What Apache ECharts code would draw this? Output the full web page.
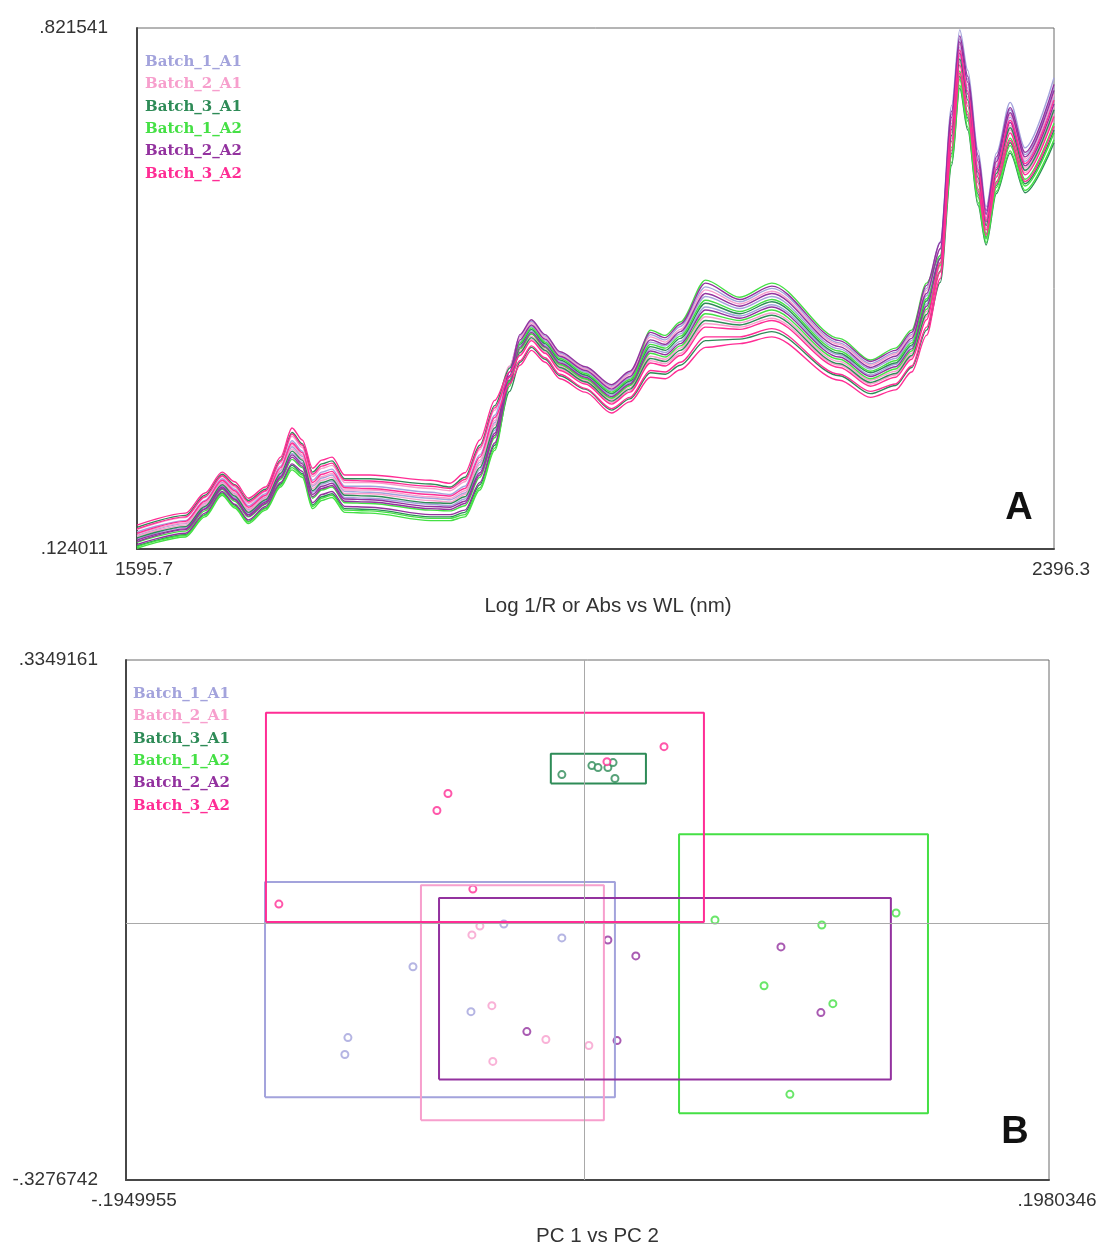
<!DOCTYPE html>
<html>
<head>
<meta charset="utf-8">
<title>NIR spectra and PCA scores by batch</title>
<script src="https://cdn.jsdelivr.net/npm/echarts@6/dist/echarts.min.js"></script>
<style>
  html, body { margin: 0; padding: 0; background: #fff; }
  #chart { width: 1102px; height: 1248px; }
</style>
</head>
<body>
<div id="chart"></div>
<script>
// ---- Data -----------------------------------------------------------------
const batchNames = ['Batch_1_A1', 'Batch_2_A1', 'Batch_3_A1', 'Batch_1_A2', 'Batch_2_A2', 'Batch_3_A2'];

// Wavelength grid (nm) shared by all spectra
const wavelengths = [1595.7, 1638, 1655, 1670, 1681, 1693, 1708, 1721, 1731, 1740, 1749, 1757, 1766, 1777, 1799, 1852, 1869, 1882, 1895, 1908, 1921, 1930,
  1940, 1952, 1965, 1987, 2010, 2026, 2044, 2057, 2070, 2092, 2122, 2150, 2209, 2236, 2258, 2272,
  2285, 2297, 2307, 2314, 2321, 2330, 2337, 2346, 2358, 2371, 2396.3];

// Log 1/R spectra, three samples per batch
const spectraBatch1A1 = [
  [0.147,0.162,0.189,0.218,0.204,0.182,0.198,0.235,0.269,0.255,0.216,0.227,0.231,0.208,0.208,0.200,0.197,0.208,0.250,0.303,0.368,0.409,
   0.429,0.409,0.386,0.366,0.342,0.360,0.411,0.404,0.422,0.475,0.455,0.473,0.400,0.372,0.387,0.411,
   0.473,0.535,0.718,0.819,0.765,0.658,0.582,0.654,0.722,0.661,0.755],
  [0.142,0.158,0.185,0.213,0.198,0.177,0.193,0.229,0.261,0.248,0.208,0.219,0.223,0.201,0.200,0.192,0.190,0.199,0.240,0.293,0.361,0.402,
   0.422,0.403,0.381,0.361,0.336,0.353,0.401,0.396,0.412,0.462,0.446,0.462,0.392,0.365,0.379,0.403,
   0.463,0.526,0.706,0.807,0.753,0.647,0.574,0.646,0.712,0.652,0.742],
  [0.137,0.153,0.180,0.208,0.193,0.172,0.188,0.223,0.252,0.240,0.200,0.211,0.215,0.193,0.192,0.184,0.182,0.191,0.230,0.283,0.354,0.396,
   0.416,0.397,0.375,0.356,0.330,0.347,0.392,0.387,0.402,0.448,0.436,0.451,0.384,0.357,0.371,0.395,
   0.452,0.517,0.694,0.796,0.741,0.636,0.567,0.638,0.702,0.643,0.729]
];
const spectraBatch2A1 = [
  [0.150,0.166,0.193,0.221,0.207,0.185,0.201,0.239,0.275,0.260,0.221,0.232,0.236,0.213,0.213,0.205,0.202,0.214,0.257,0.310,0.369,0.407,
   0.427,0.407,0.384,0.365,0.340,0.358,0.408,0.401,0.418,0.471,0.452,0.469,0.398,0.370,0.385,0.409,
   0.470,0.526,0.698,0.800,0.745,0.640,0.569,0.641,0.705,0.646,0.733],
  [0.144,0.159,0.186,0.215,0.200,0.178,0.195,0.231,0.264,0.250,0.210,0.221,0.225,0.203,0.203,0.194,0.192,0.202,0.243,0.296,0.355,0.389,
   0.409,0.392,0.369,0.350,0.324,0.340,0.382,0.378,0.393,0.435,0.427,0.440,0.375,0.350,0.362,0.386,
   0.442,0.508,0.682,0.784,0.729,0.625,0.559,0.630,0.691,0.634,0.716],
  [0.141,0.156,0.183,0.212,0.197,0.175,0.192,0.227,0.258,0.245,0.205,0.216,0.220,0.198,0.198,0.189,0.187,0.197,0.237,0.290,0.350,0.385,
   0.405,0.388,0.365,0.347,0.320,0.336,0.376,0.372,0.386,0.426,0.421,0.433,0.370,0.345,0.357,0.381,
   0.435,0.502,0.674,0.776,0.721,0.617,0.554,0.624,0.685,0.628,0.707]
];
const spectraBatch3A1 = [
  [0.153,0.169,0.196,0.224,0.210,0.189,0.204,0.243,0.280,0.265,0.227,0.238,0.242,0.218,0.218,0.211,0.207,0.220,0.263,0.316,0.366,0.398,
   0.418,0.399,0.377,0.357,0.332,0.349,0.395,0.390,0.406,0.453,0.439,0.455,0.386,0.360,0.373,0.397,
   0.456,0.513,0.678,0.780,0.725,0.621,0.557,0.627,0.688,0.631,0.712],
  [0.139,0.154,0.181,0.210,0.195,0.173,0.190,0.225,0.255,0.243,0.202,0.213,0.217,0.196,0.195,0.186,0.185,0.194,0.233,0.286,0.350,0.387,
   0.407,0.390,0.367,0.348,0.322,0.338,0.379,0.375,0.390,0.430,0.424,0.437,0.372,0.347,0.359,0.383,
   0.438,0.496,0.654,0.757,0.701,0.599,0.541,0.611,0.668,0.613,0.685],
  [0.128,0.143,0.170,0.199,0.183,0.161,0.179,0.211,0.236,0.225,0.183,0.194,0.198,0.178,0.177,0.167,0.167,0.173,0.210,0.263,0.335,0.374,
   0.394,0.378,0.356,0.338,0.310,0.325,0.360,0.358,0.370,0.403,0.405,0.415,0.356,0.332,0.343,0.367,
   0.417,0.481,0.638,0.741,0.685,0.584,0.531,0.600,0.654,0.601,0.668]
];
const spectraBatch1A2 = [
  [0.133,0.148,0.175,0.204,0.188,0.167,0.184,0.217,0.244,0.233,0.192,0.203,0.207,0.186,0.185,0.176,0.175,0.182,0.220,0.273,0.348,0.392,
   0.412,0.394,0.371,0.352,0.326,0.343,0.417,0.410,0.428,0.484,0.461,0.480,0.406,0.377,0.393,0.417,
   0.480,0.517,0.662,0.764,0.709,0.606,0.546,0.616,0.674,0.619,0.694],
  [0.127,0.142,0.169,0.198,0.181,0.160,0.178,0.209,0.233,0.223,0.181,0.192,0.196,0.176,0.175,0.165,0.165,0.170,0.206,0.259,0.348,0.400,
   0.420,0.401,0.379,0.359,0.334,0.351,0.398,0.393,0.409,0.457,0.442,0.458,0.389,0.362,0.376,0.400,
   0.459,0.504,0.650,0.753,0.697,0.595,0.539,0.608,0.664,0.610,0.681],
  [0.125,0.140,0.167,0.196,0.179,0.158,0.176,0.207,0.230,0.220,0.178,0.189,0.193,0.173,0.172,0.162,0.162,0.167,0.203,0.256,0.342,0.392,
   0.412,0.394,0.371,0.352,0.326,0.343,0.386,0.381,0.396,0.439,0.430,0.444,0.378,0.352,0.365,0.389,
   0.445,0.495,0.642,0.745,0.689,0.588,0.534,0.603,0.657,0.604,0.672]
];
const spectraBatch2A2 = [
  [0.136,0.151,0.178,0.207,0.191,0.170,0.187,0.221,0.250,0.238,0.197,0.208,0.212,0.191,0.190,0.181,0.180,0.188,0.226,0.279,0.361,0.411,
   0.431,0.411,0.388,0.368,0.344,0.362,0.414,0.407,0.425,0.480,0.458,0.476,0.403,0.375,0.390,0.414,
   0.477,0.534,0.710,0.811,0.757,0.651,0.577,0.649,0.715,0.655,0.746],
  [0.134,0.150,0.177,0.205,0.190,0.168,0.185,0.219,0.247,0.235,0.194,0.205,0.209,0.188,0.187,0.178,0.177,0.185,0.223,0.276,0.356,0.404,
   0.424,0.405,0.382,0.363,0.338,0.355,0.404,0.398,0.415,0.466,0.449,0.466,0.395,0.367,0.382,0.406,
   0.466,0.526,0.702,0.803,0.749,0.643,0.572,0.643,0.708,0.649,0.738],
  [0.130,0.145,0.172,0.201,0.184,0.163,0.181,0.213,0.238,0.228,0.186,0.197,0.201,0.181,0.180,0.170,0.170,0.176,0.213,0.266,0.346,0.394,
   0.414,0.395,0.373,0.354,0.328,0.345,0.389,0.384,0.399,0.444,0.433,0.448,0.381,0.355,0.368,0.392,
   0.449,0.513,0.686,0.788,0.733,0.628,0.562,0.632,0.695,0.637,0.720]
];
const spectraBatch3A2 = [
  [0.156,0.172,0.199,0.227,0.214,0.192,0.207,0.247,0.286,0.270,0.232,0.243,0.247,0.223,0.223,0.216,0.212,0.226,0.270,0.323,0.361,0.383,
   0.403,0.386,0.363,0.345,0.318,0.334,0.373,0.369,0.383,0.421,0.418,0.430,0.367,0.342,0.354,0.378,
   0.431,0.507,0.690,0.792,0.737,0.632,0.564,0.635,0.698,0.640,0.725],
  [0.151,0.167,0.194,0.222,0.209,0.187,0.202,0.241,0.278,0.263,0.224,0.235,0.239,0.216,0.215,0.208,0.205,0.217,0.260,0.313,0.354,0.376,
   0.396,0.380,0.358,0.339,0.312,0.327,0.363,0.361,0.374,0.408,0.408,0.419,0.358,0.335,0.345,0.369,
   0.421,0.495,0.670,0.772,0.717,0.614,0.551,0.622,0.681,0.625,0.703],
  [0.145,0.161,0.188,0.216,0.202,0.180,0.196,0.233,0.266,0.253,0.213,0.224,0.228,0.206,0.205,0.197,0.195,0.205,0.247,0.300,0.345,0.370,
   0.390,0.374,0.352,0.334,0.306,0.321,0.354,0.352,0.364,0.394,0.399,0.408,0.350,0.327,0.337,0.361,
   0.410,0.486,0.658,0.761,0.705,0.603,0.544,0.614,0.671,0.616,0.690]
];

// PCA scores (PC 1, PC 2), six samples per batch
const pc1Batch1A1 = [-0.0341, -0.0094, -0.0728, -0.1005, -0.1018, -0.0481];
const pc2Batch1A1 = [-0.0015, -0.0192, -0.0560, -0.1462, -0.1677, -0.1132];
const pc1Batch2A1 = [-0.0443, -0.0477, -0.0392, -0.0162, 0.0021, -0.0388];
const pc2Batch2A1 = [-0.0040, -0.0154, -0.1055, -0.1487, -0.1563, -0.1766];
const pc1Batch3A1 = [-0.0094, 0.0034, 0.0060, 0.0102, 0.0124, 0.0132];
const pc2Batch3A1 = [0.1889, 0.2004, 0.1978, 0.1978, 0.2042, 0.1839];
const pc1Batch1A2 = [0.0558, 0.1013, 0.1329, 0.0767, 0.1060, 0.0877];
const pc2Batch1A2 = [0.0036, -0.0027, 0.0125, -0.0802, -0.1030, -0.2185];
const pc1Batch2A2 = [0.0102, 0.0221, 0.0839, 0.1009, 0.0141, -0.0243];
const pc2Batch2A2 = [-0.0218, -0.0421, -0.0307, -0.1144, -0.1500, -0.1386];
const pc1Batch3A2 = [0.0341, 0.0098, -0.0579, -0.0626, -0.0473, -0.1299];
const pc2Batch3A2 = [0.2245, 0.2054, 0.1648, 0.1432, 0.0430, 0.0239];

// Class limit boxes: [PC1 min, PC1 max, PC2 min, PC2 max]
const boxBatch1A1 = [-0.1358, 0.0132, -0.2223, 0.0519];
const boxBatch2A1 = [-0.0694, 0.0085, -0.2515, 0.0480];
const boxBatch3A1 = [-0.0141, 0.0264, 0.1775, 0.2156];
const boxBatch1A2 = [0.0405, 0.1465, -0.2426, 0.1128];
const boxBatch2A2 = [-0.0617, 0.1307, -0.1995, 0.0315];
const boxBatch3A2 = [-0.1354, 0.0511, 0.0011, 0.2676];

// Axis end ticks
const spectraXTicks = [1595.7, 2396.3];
const spectraYTicks = [0.124011, 0.821541];
const scoreXTicks = [-0.1949955, 0.1980346];
const scoreYTicks = [-0.3276742, 0.3349161];

// ---- Styles ---------------------------------------------------------------
const batchColors = ['#a3a3dc', '#f79fcd', '#2e8b57', '#45e045', '#93329f', '#ff2d95'];
const sansFont = '"Liberation Sans", Arial, sans-serif';
const serifFont = '"DejaVu Serif", "Liberation Serif", serif';

// ---- Assembly -------------------------------------------------------------
const spectraByBatch = [spectraBatch1A1, spectraBatch2A1, spectraBatch3A1, spectraBatch1A2, spectraBatch2A2, spectraBatch3A2];
const pc1ByBatch = [pc1Batch1A1, pc1Batch2A1, pc1Batch3A1, pc1Batch1A2, pc1Batch2A2, pc1Batch3A2];
const pc2ByBatch = [pc2Batch1A1, pc2Batch2A1, pc2Batch3A1, pc2Batch1A2, pc2Batch2A2, pc2Batch3A2];
const boxByBatch = [boxBatch1A1, boxBatch2A1, boxBatch3A1, boxBatch1A2, boxBatch2A2, boxBatch3A2];

function tickText(v) {
  return String(v).replace(/^(-?)0\./, '$1.');
}

const series = [];

// Spectra (top panel)
spectraByBatch.forEach((spectra, b) => {
  spectra.forEach((values) => {
    series.push({
      type: 'line', name: batchNames[b], xAxisIndex: 0, yAxisIndex: 0,
      data: wavelengths.map((w, i) => [w, values[i]]),
      showSymbol: false, smooth: 0.3, smoothMonotone: 'x', silent: true,
      lineStyle: { color: batchColors[b], width: 1.4 },
      itemStyle: { color: batchColors[b] }
    });
  });
});

// Class boxes (bottom panel)
boxByBatch.forEach((box, b) => {
  const [x0, x1, y0, y1] = box;
  const s = {
    type: 'line', name: batchNames[b], xAxisIndex: 1, yAxisIndex: 1,
    data: [[x0, y0], [x1, y0], [x1, y1], [x0, y1], [x0, y0]],
    showSymbol: false, silent: true,
    lineStyle: { color: batchColors[b], width: 2 },
    itemStyle: { color: batchColors[b] }
  };
  if (b === 0) {
    s.markLine = {
      silent: true, symbol: 'none', animation: false,
      label: { show: false },
      lineStyle: { color: '#a9a9a9', width: 1, type: 'solid' },
      data: [{ xAxis: 0 }, { yAxis: 0 }]
    };
  }
  series.push(s);
});

// Scores (bottom panel)
pc1ByBatch.forEach((xs, b) => {
  series.push({
    type: 'scatter', name: batchNames[b], xAxisIndex: 1, yAxisIndex: 1,
    data: xs.map((x, i) => [x, pc2ByBatch[b][i]]),
    symbol: 'emptyCircle', symbolSize: 7, silent: true,
    itemStyle: { color: batchColors[b], borderColor: batchColors[b], borderWidth: 1.7 }
  });
});

function legendAt(left, top) {
  return {
    orient: 'vertical', left: left, top: top,
    icon: 'rect', itemWidth: 0, itemHeight: 16, itemGap: 6.4,
    itemStyle: { opacity: 0 }, lineStyle: { opacity: 0 },
    selectedMode: false,
    textStyle: { fontFamily: serifFont, fontWeight: 'bold', fontSize: 15, lineHeight: 16 },
    data: batchNames.map((n, b) => ({ name: n, textStyle: { color: batchColors[b] } }))
  };
}

function valueAxis(gridIndex, ticks, extra) {
  return Object.assign({
    gridIndex: gridIndex, type: 'value',
    min: ticks[0], max: ticks[1],
    axisLine: { show: true, onZero: false, lineStyle: { color: '#474747', width: 2 } },
    axisTick: { show: false },
    splitLine: { show: false },
    axisLabel: {
      customValues: ticks, formatter: tickText,
      fontFamily: sansFont, fontSize: 19, color: '#333'
    }
  }, extra);
}

const xA = valueAxis(0, spectraXTicks, {
  name: 'Log 1/R or Abs vs WL (nm)', nameLocation: 'middle', nameGap: 47,
  nameTextStyle: { fontFamily: sansFont, fontSize: 20.5, color: '#333', padding: [0, 0, 0, 25] }
});
xA.axisLabel.margin = 11; xA.axisLabel.padding = [0, 0, 0, 14];

const yA = valueAxis(0, spectraYTicks, {});
yA.axisLabel.margin = 29;

const xB = valueAxis(1, scoreXTicks, {
  name: 'PC 1 vs PC 2', nameLocation: 'middle', nameGap: 46,
  nameTextStyle: { fontFamily: sansFont, fontSize: 20.5, color: '#333', padding: [0, 0, 0, 20] }
});
xB.axisLabel.margin = 11; xB.axisLabel.padding = [0, 0, 0, 16];

const yB = valueAxis(1, scoreYTicks, {});
yB.axisLabel.margin = 28;

const option = {
  animation: false,
  backgroundColor: '#ffffff',
  textStyle: { fontFamily: sansFont },
  grid: [
    { left: 137, top: 28, width: 917, height: 521, show: true, borderColor: '#6a6a6a', borderWidth: 1 },
    { left: 126, top: 660, width: 923, height: 522, show: true, borderColor: '#6a6a6a', borderWidth: 1 }
  ],
  legend: [legendAt(135, 49), legendAt(123, 681)],
  xAxis: [xA, xB],
  yAxis: [yA, yB],
  graphic: [
    { type: 'text', x: 1019, y: 509, style: { text: 'A', font: 'bold 38px ' + sansFont, fill: '#111', align: 'center', verticalAlign: 'middle' } },
    { type: 'text', x: 1015, y: 1133, style: { text: 'B', font: 'bold 38px ' + sansFont, fill: '#111', align: 'center', verticalAlign: 'middle' } }
  ],
  series: series
};

const chart = echarts.init(document.getElementById('chart'), null, { renderer: 'canvas' });
chart.setOption(option);
</script>
</body>
</html>
